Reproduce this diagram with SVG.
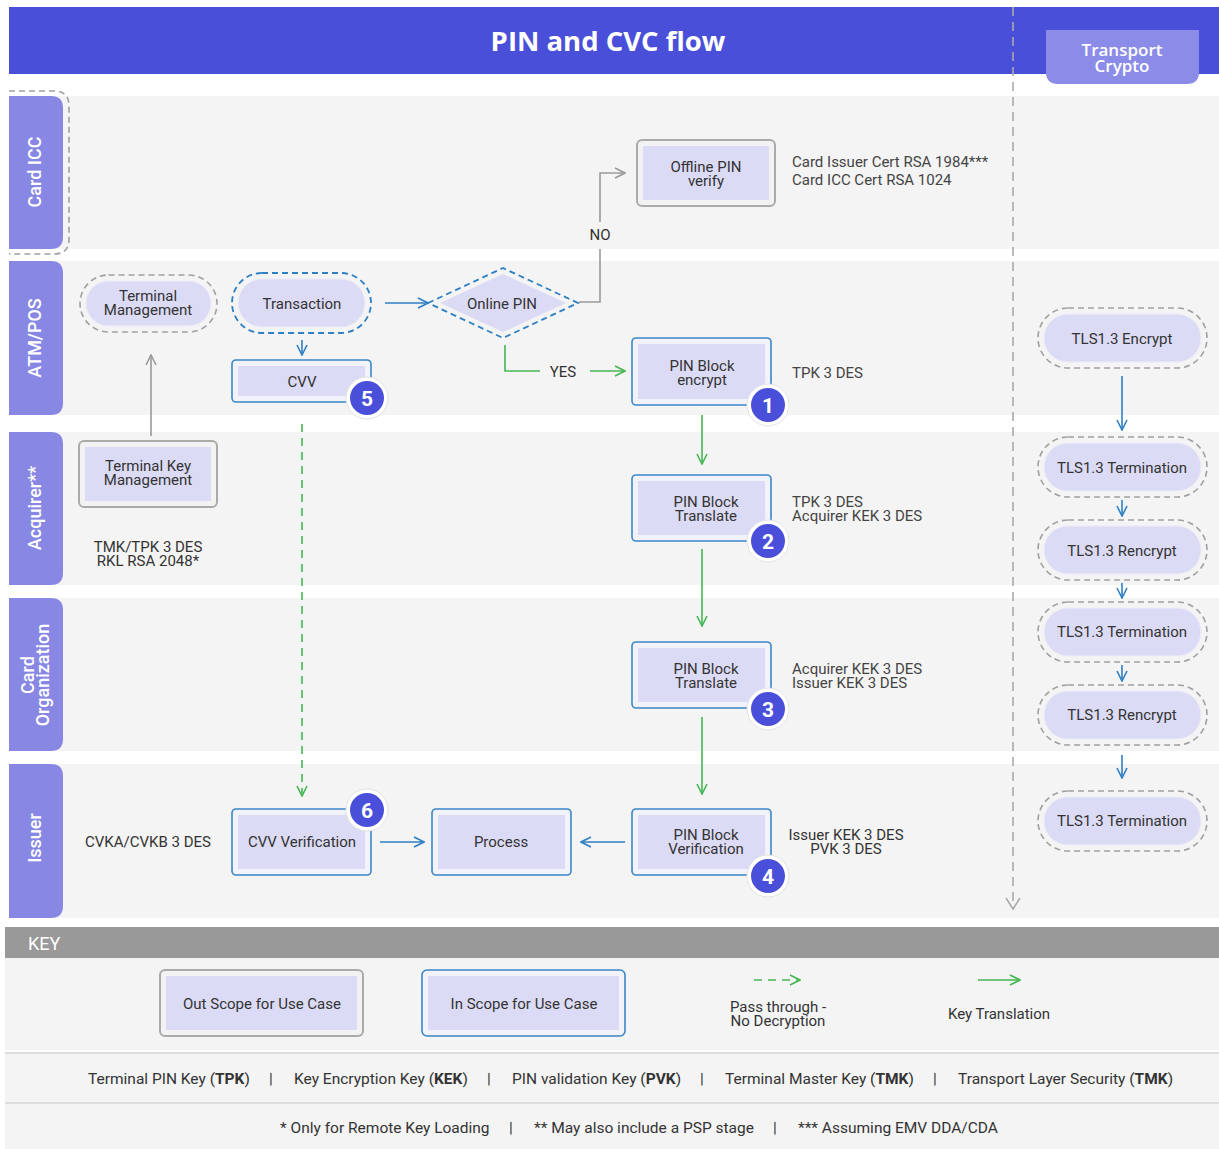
<svg xmlns="http://www.w3.org/2000/svg" width="1219" height="1149" viewBox="0 0 1219 1149">
<style>
.t{font-family:Roboto,"Liberation Sans",sans-serif;font-size:15px;fill:#333;text-anchor:middle}
.tl{font-family:Roboto,"Liberation Sans",sans-serif;font-size:15px;fill:#444;text-anchor:start}
.g{font-family:Roboto,"Liberation Sans",sans-serif;font-size:15.5px;fill:#333;text-anchor:start}
.lane{fill:#f4f4f4}
.tab{fill:#8888e4}
.tabt{font-family:Roboto,"Liberation Sans",sans-serif;font-size:18px;fill:#fff;text-anchor:middle;font-weight:500}
.inb{fill:#f2f2fb;stroke:#3a86c8;stroke-width:1.6}
.outb{fill:#f2f2f2;stroke:#aaa;stroke-width:2}
.inner{fill:#dcdbf6}
.pill{fill:#dcdbf6;stroke:#ececf8;stroke-width:1}
.dg{fill:none;stroke:#a0a0a0;stroke-width:1.6;stroke-dasharray:6 4}
.db{fill:none;stroke:#2f7fc4;stroke-width:1.8;stroke-dasharray:6 4}
.ab{fill:none;stroke:#2f7fc4;stroke-width:1.6}
.ag{fill:none;stroke:#44b653;stroke-width:1.6}
.agr{fill:none;stroke:#9a9a9a;stroke-width:1.6}
.bo{fill:#fff;stroke:#e3e3e3;stroke-width:1}
.bi{fill:#4a4fd9}
.bn{font-family:Roboto,"Liberation Sans",sans-serif;font-size:21px;font-weight:700;fill:#fff;text-anchor:middle}
</style>
<defs>
<marker id="mb" viewBox="0 0 12 12" refX="11" refY="6" markerWidth="12" markerHeight="12" markerUnits="userSpaceOnUse" orient="auto"><path d="M1,1 L11,6 L1,11" fill="none" stroke="#2f7fc4" stroke-width="1.6"/></marker>
<marker id="mg" viewBox="0 0 12 12" refX="11" refY="6" markerWidth="12" markerHeight="12" markerUnits="userSpaceOnUse" orient="auto"><path d="M1,1 L11,6 L1,11" fill="none" stroke="#44b653" stroke-width="1.6"/></marker>
<marker id="mgr" viewBox="0 0 12 12" refX="11" refY="6" markerWidth="12" markerHeight="12" markerUnits="userSpaceOnUse" orient="auto"><path d="M1,1 L11,6 L1,11" fill="none" stroke="#9a9a9a" stroke-width="1.6"/></marker>
</defs>
<rect width="1219" height="1149" fill="#fff"/>

<!-- lanes -->
<g id="lanes">
<rect class="lane" x="9" y="96" width="1210" height="153"/>
<rect class="lane" x="9" y="261" width="1210" height="154"/>
<rect class="lane" x="9" y="432" width="1210" height="153"/>
<rect class="lane" x="9" y="598" width="1210" height="153"/>
<rect class="lane" x="9" y="764" width="1210" height="154"/>
<path class="tab" d="M9,96 H51 Q63,96 63,108 V237 Q63,249 51,249 H9 Z"/>
<path class="tab" d="M9,261 H51 Q63,261 63,273 V403 Q63,415 51,415 H9 Z"/>
<path class="tab" d="M9,432 H51 Q63,432 63,444 V573 Q63,585 51,585 H9 Z"/>
<path class="tab" d="M9,598 H51 Q63,598 63,610 V739 Q63,751 51,751 H9 Z"/>
<path class="tab" d="M9,764 H51 Q63,764 63,776 V906 Q63,918 51,918 H9 Z"/>
<path class="dg" d="M9,91 H54 Q69,91 69,106 V239 Q69,254 54,254 H9"/>
<text class="tabt" transform="translate(41,172) rotate(-90)">Card ICC</text>
<text class="tabt" transform="translate(41,338) rotate(-90)">ATM/POS</text>
<text class="tabt" transform="translate(41,508) rotate(-90)">Acquirer**</text>
<text class="tabt" transform="translate(34,675) rotate(-90)">Card<tspan x="0" dy="15">Organization</tspan></text>
<text class="tabt" transform="translate(41,838) rotate(-90)">Issuer</text>
</g>

<!-- header -->
<g id="header">
<rect x="9" y="7" width="1210" height="67" fill="#4a4fd9"/>
<text x="608" y="51" font-family="'Open Sans',Inter,'Liberation Sans',sans-serif" font-size="27.5" font-weight="700" fill="#fff" text-anchor="middle">PIN and CVC flow</text>
<path d="M1046,30 H1199 V72 Q1199,84 1187,84 H1058 Q1046,84 1046,72 Z" fill="#8b8be8"/>
<text x="1122" y="56" font-family="'Open Sans',Inter,'Liberation Sans',sans-serif" font-size="17" font-weight="600" fill="#fff" text-anchor="middle">Transport<tspan x="1122" dy="16">Crypto</tspan></text>
</g>

<!-- connectors -->
<g id="connectors">
<path d="M1013,7 V907" fill="none" stroke="#aaa" stroke-width="1.6" stroke-dasharray="9 6"/>
<path d="M1006,898 L1013,909 L1020,898" fill="none" stroke="#aaa" stroke-width="1.6"/>
<path class="agr" d="M579,302 H600 V249"/>
<path class="agr" d="M600,222 V173 H625" marker-end="url(#mgr)"/>
<text class="t" x="600" y="240" fill="#444">NO</text>
<path class="ab" d="M385,303 H428" marker-end="url(#mb)"/>
<path class="ab" d="M302,340 V355" marker-end="url(#mb)"/>
<path class="ag" d="M505,345 V371 H540"/>
<text class="t" x="563" y="377">YES</text>
<path class="ag" d="M590,371 H625" marker-end="url(#mg)"/>
<path class="ag" d="M702,415 V464" marker-end="url(#mg)"/>
<path class="ag" d="M702,549 V626" marker-end="url(#mg)"/>
<path class="ag" d="M702,717 V794" marker-end="url(#mg)"/>
<path class="ab" d="M625,842 H581" marker-end="url(#mb)"/>
<path class="ab" d="M380,842 H424" marker-end="url(#mb)"/>
<path class="ag" d="M302,424 V796" stroke-dasharray="8 6" marker-end="url(#mg)"/>
<path class="agr" d="M151,436 V355" marker-end="url(#mgr)"/>
<path class="ab" d="M1122,376 V430" marker-end="url(#mb)"/>
<path class="ab" d="M1122,500 V516" marker-end="url(#mb)"/>
<path class="ab" d="M1122,583 V598" marker-end="url(#mb)"/>
<path class="ab" d="M1122,665 V681" marker-end="url(#mb)"/>
<path class="ab" d="M1122,755 V778" marker-end="url(#mb)"/>
</g>

<!-- nodes -->
<g id="offline-pin">
<rect class="outb" x="637" y="140" width="138" height="66" rx="5"/>
<rect class="inner" x="643" y="146" width="126" height="54"/>
<text class="t" x="706" y="172">Offline PIN<tspan x="706" dy="14">verify</tspan></text>
</g>
<g id="card-certs">
<text class="tl" x="792" y="167">Card Issuer Cert RSA 1984***<tspan x="792" dy="18">Card ICC Cert RSA 1024</tspan></text>
</g>

<g id="terminal-management">
<rect class="dg" x="80" y="275" width="137" height="57" rx="28.5"/>
<rect class="pill" x="86" y="281" width="125" height="45" rx="22.5"/>
<text class="t" x="148" y="301">Terminal<tspan x="148" dy="14">Management</tspan></text>
</g>

<g id="transaction">
<rect class="db" x="232" y="273" width="139" height="60" rx="30"/>
<rect class="pill" x="238" y="279" width="127" height="48" rx="24"/>
<text class="t" x="302" y="309">Transaction</text>
</g>

<g id="online-pin">
<polygon points="440,303 503,274 566,303 503,332" fill="#dcdbf6"/>
<polygon class="db" points="428,303 503,268 578,303 503,338"/>
<text class="t" x="502" y="309">Online PIN</text>
</g>

<g id="cvv">
<rect class="inb" x="232" y="360" width="139" height="42" rx="4"/>
<rect class="inner" x="238" y="366" width="127" height="30"/>
<text class="t" x="302" y="387">CVV</text>
<circle class="bo" cx="367" cy="398" r="21"/>
<circle class="bi" cx="367" cy="398" r="17"/>
<text class="bn" x="367" y="406">5</text>
</g>

<g id="pin-encrypt">
<rect class="inb" x="632" y="338" width="139" height="67" rx="4"/>
<rect class="inner" x="638" y="344" width="127" height="55"/>
<text class="t" x="702" y="371">PIN Block<tspan x="702" dy="14">encrypt</tspan></text>
<circle class="bo" cx="768" cy="405" r="21"/>
<circle class="bi" cx="768" cy="405" r="17"/>
<text class="bn" x="768" y="413">1</text>
<text class="tl" x="792" y="378">TPK 3 DES</text>
</g>

<g id="terminal-key-management">
<rect class="outb" x="79" y="441" width="138" height="66" rx="5"/>
<rect class="inner" x="85" y="447" width="126" height="54"/>
<text class="t" x="148" y="471">Terminal Key<tspan x="148" dy="14">Management</tspan></text>
<text class="t" x="148" y="552">TMK/TPK 3 DES<tspan x="148" dy="14">RKL RSA 2048*</tspan></text>
</g>

<g id="pin-translate-1">
<rect class="inb" x="632" y="475" width="139" height="66" rx="4"/>
<rect class="inner" x="638" y="481" width="127" height="54"/>
<text class="t" x="706" y="507">PIN Block<tspan x="706" dy="14">Translate</tspan></text>
<circle class="bo" cx="768" cy="541" r="21"/>
<circle class="bi" cx="768" cy="541" r="17"/>
<text class="bn" x="768" y="549">2</text>
<text class="tl" x="792" y="507">TPK 3 DES<tspan x="792" dy="14">Acquirer KEK 3 DES</tspan></text>
</g>

<g id="pin-translate-2">
<rect class="inb" x="632" y="642" width="139" height="66" rx="4"/>
<rect class="inner" x="638" y="648" width="127" height="54"/>
<text class="t" x="706" y="674">PIN Block<tspan x="706" dy="14">Translate</tspan></text>
<circle class="bo" cx="768" cy="709" r="21"/>
<circle class="bi" cx="768" cy="709" r="17"/>
<text class="bn" x="768" y="717">3</text>
<text class="tl" x="792" y="674">Acquirer KEK 3 DES<tspan x="792" dy="14">Issuer KEK 3 DES</tspan></text>
</g>

<g id="pin-verification">
<rect class="inb" x="632" y="809" width="139" height="66" rx="4"/>
<rect class="inner" x="638" y="815" width="127" height="54"/>
<text class="t" x="706" y="840">PIN Block<tspan x="706" dy="14">Verification</tspan></text>
<circle class="bo" cx="768" cy="876" r="21"/>
<circle class="bi" cx="768" cy="876" r="17"/>
<text class="bn" x="768" y="884">4</text>
<text class="t" x="846" y="840">Issuer KEK 3 DES<tspan x="846" dy="14">PVK 3 DES</tspan></text>
</g>

<g id="process">
<rect class="inb" x="432" y="809" width="139" height="66" rx="4"/>
<rect class="inner" x="438" y="815" width="127" height="54"/>
<text class="t" x="501" y="847">Process</text>
</g>

<g id="cvv-verification">
<rect class="inb" x="232" y="809" width="139" height="66" rx="4"/>
<rect class="inner" x="238" y="815" width="127" height="54"/>
<text class="t" x="302" y="847">CVV Verification</text>
<circle class="bo" cx="367" cy="810" r="21"/>
<circle class="bi" cx="367" cy="810" r="17"/>
<text class="bn" x="367" y="818">6</text>
<text class="t" x="148" y="847">CVKA/CVKB 3 DES</text>
</g>

<g id="tls-encrypt">
<rect class="dg" x="1038" y="308" width="169" height="60" rx="30"/>
<rect class="pill" x="1044" y="314" width="157" height="48" rx="24"/>
<text class="t" x="1122" y="344">TLS1.3 Encrypt</text>
</g>
<g id="tls-termination-1">
<rect class="dg" x="1038" y="437" width="169" height="60" rx="30"/>
<rect class="pill" x="1044" y="443" width="157" height="48" rx="24"/>
<text class="t" x="1122" y="473">TLS1.3 Termination</text>
</g>
<g id="tls-rencrypt-1">
<rect class="dg" x="1038" y="520" width="169" height="60" rx="30"/>
<rect class="pill" x="1044" y="526" width="157" height="48" rx="24"/>
<text class="t" x="1122" y="556">TLS1.3 Rencrypt</text>
</g>
<g id="tls-termination-2">
<rect class="dg" x="1038" y="602" width="169" height="60" rx="30"/>
<rect class="pill" x="1044" y="608" width="157" height="48" rx="24"/>
<text class="t" x="1122" y="637">TLS1.3 Termination</text>
</g>
<g id="tls-rencrypt-2">
<rect class="dg" x="1038" y="685" width="169" height="60" rx="30"/>
<rect class="pill" x="1044" y="691" width="157" height="48" rx="24"/>
<text class="t" x="1122" y="720">TLS1.3 Rencrypt</text>
</g>
<g id="tls-termination-3">
<rect class="dg" x="1038" y="791" width="169" height="60" rx="30"/>
<rect class="pill" x="1044" y="797" width="157" height="48" rx="24"/>
<text class="t" x="1122" y="826">TLS1.3 Termination</text>
</g>

<!-- key -->
<g id="key">
<rect x="5" y="927" width="1214" height="31" fill="#999"/>
<text x="28" y="950" font-family="Roboto,'Liberation Sans',sans-serif" font-size="18" fill="#fff">KEY</text>
<rect x="5" y="958" width="1214" height="92" fill="#f4f4f4"/>
<rect x="5" y="1052" width="1214" height="2" fill="#ddd"/>
<rect x="5" y="1054" width="1214" height="48" fill="#f4f4f4"/>
<rect x="5" y="1102" width="1214" height="2" fill="#ddd"/>
<rect x="5" y="1104" width="1214" height="45" fill="#f4f4f4"/>
<rect class="outb" x="160" y="970" width="203" height="66" rx="5"/>
<rect class="inner" x="166" y="976" width="191" height="54"/>
<text class="t" x="262" y="1009">Out Scope for Use Case</text>
<rect class="inb" x="422" y="970" width="203" height="66" rx="5"/>
<rect class="inner" x="428" y="976" width="191" height="54"/>
<text class="t" x="524" y="1009">In Scope for Use Case</text>
<path class="ag" d="M754,980 H800" stroke-dasharray="8 6" marker-end="url(#mg)"/>
<text class="t" x="778" y="1012">Pass through -<tspan x="778" dy="14">No Decryption</tspan></text>
<path class="ag" d="M978,980 H1020" marker-end="url(#mg)"/>
<text class="t" x="999" y="1019">Key Translation</text>
<text class="g" x="88" y="1084">Terminal PIN Key (<tspan font-weight="700">TPK</tspan>)</text>
<text class="g" x="269" y="1084">|</text>
<text class="g" x="294" y="1084">Key Encryption Key (<tspan font-weight="700">KEK</tspan>)</text>
<text class="g" x="487" y="1084">|</text>
<text class="g" x="512" y="1084">PIN validation Key (<tspan font-weight="700">PVK</tspan>)</text>
<text class="g" x="700" y="1084">|</text>
<text class="g" x="725" y="1084">Terminal Master Key (<tspan font-weight="700">TMK</tspan>)</text>
<text class="g" x="933" y="1084">|</text>
<text class="g" x="958" y="1084">Transport Layer Security (<tspan font-weight="700">TMK</tspan>)</text>
<text class="g" x="280" y="1133">* Only for Remote Key Loading</text>
<text class="g" x="509" y="1133">|</text>
<text class="g" x="534" y="1133">** May also include a PSP stage</text>
<text class="g" x="773" y="1133">|</text>
<text class="g" x="798" y="1133">*** Assuming EMV DDA/CDA</text>
</g>
</svg>
